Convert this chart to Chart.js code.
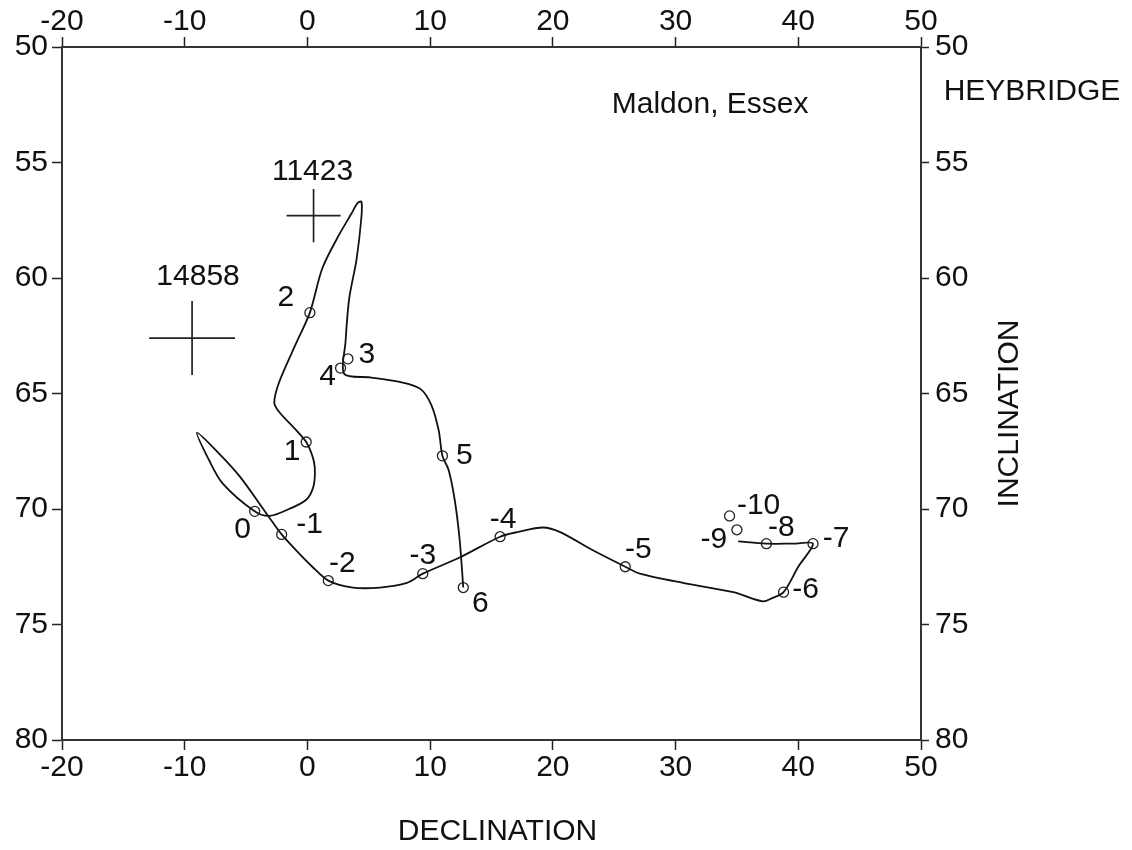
<!DOCTYPE html>
<html>
<head>
<meta charset="utf-8">
<title>Maldon, Essex - Heybridge</title>
<script src="https://cdn.jsdelivr.net/npm/chart.js@4.4.0/dist/chart.umd.min.js"></script>
<style>
  html, body { margin: 0; padding: 0; background: #fff; }
  #wrap { width: 1132px; height: 850px; }
</style>
</head>
<body>
<div id="wrap"><canvas id="curveChart" width="1132" height="850"></canvas></div>
<script>
// curve, from 6 back to -8
const curveDec = [12.7, 12.4, 12.0, 11.5, 11.0, 10.7, 10.1, 9.2, 7.5, 5.1, 3.0, 3.1, 3.4, 4.0, 4.4, 4.4, 4.1, 3.6, 2.4, 1.2,
  0.2, -0.9, -2.3, -2.7, -2.3, -0.9, -0.1, 0.4, 0.6, 0.5, -0.1, -1.5, -3.1, -4.3, -6.9, -8.0, -9.0, -7.2, -5.5, -3.2,
  -2.1, -0.9, 0.4, 1.7, 3.7, 5.9, 8.1, 9.4, 12.4, 15.7, 17.1, 19.2, 20.6, 23.3, 25.9, 27.1, 30.6, 34.7, 37.1, 37.9,
  38.8, 40.0, 41.2, 39.6, 37.4, 35.1];
const curveInc = [73.4, 71.3, 69.6, 68.3, 67.7, 66.6, 65.5, 64.8, 64.5, 64.3, 64.15, 62.8, 60.9, 59.2, 57.35, 56.7, 56.75, 57.2, 58.3, 59.6,
  61.5, 62.8, 64.5, 65.4, 65.8, 66.6, 67.1, 67.7, 68.2, 69.0, 69.6, 70.0, 70.3, 70.1, 68.9, 67.9, 66.7, 67.6, 68.6, 70.3,
  71.1, 71.8, 72.5, 73.1, 73.4, 73.4, 73.2, 72.8, 72.1, 71.2, 71.0, 70.8, 71.0, 71.8, 72.5, 72.8, 73.2, 73.6, 74.0, 73.85,
  73.6, 72.5, 71.5, 71.5, 71.5, 71.4];

// dated points (circles)
const pointLabels = ['6', '5', '4', '3', '2', '1', '0', '-1', '-2', '-3', '-4', '-5', '-6', '-7', '-8', '-9', '-10'];
const pointDec = [12.7, 11.0, 2.7, 3.3, 0.2, -0.1, -4.3, -2.1, 1.7, 9.4, 15.7, 25.9, 38.8, 41.2, 37.4, 35.0, 34.4];
const pointInc = [73.4, 67.7, 63.9, 63.5, 61.5, 67.1, 70.1, 71.1, 73.1, 72.8, 71.2, 72.5, 73.6, 71.5, 71.5, 70.9, 70.3];

// sample results with error crosses
const siteLabels = ['11423', '14858'];
const siteDec = [0.5, -9.4];
const siteInc = [57.3, 62.6];
const siteDecErr = [2.2, 3.5];
const siteIncErr = [1.15, 1.6];

const decTicks = [-20, -10, 0, 10, 20, 30, 40, 50];
const incTicks = [50, 55, 60, 65, 70, 75, 80];

// label placement next to the circles, in pixels
const labelOffsets = [[17, 16], [22, 0], [-13, 9], [19, -4], [-24, -15], [-14, 10], [-12, 18], [28, -10], [14, -17],
  [0, -18], [3, -17], [13, -17], [22, -2], [23, -5], [15, -16], [-23, 10], [29, -10]];
const siteOffsets = [[-1, -44], [6, -61]];

const FONT = '"Liberation Sans", Arial, Helvetica, sans-serif';
Chart.defaults.font.family = FONT;
Chart.defaults.font.size = 30;
Chart.defaults.color = '#111';

const datasets = [{
  data: curveDec.map((d, i) => ({ x: d, y: curveInc[i] })),
  showLine: true,
  borderColor: '#111',
  borderWidth: 1.8,
  pointRadius: 0,
  tension: 0.3
}, {
  data: pointDec.map((d, i) => ({ x: d, y: pointInc[i] })),
  showLine: false,
  pointRadius: 5,
  pointBorderWidth: 1.3,
  pointBorderColor: '#222',
  pointBackgroundColor: 'rgba(255,255,255,0)'
}];

siteDec.forEach((d, i) => {
  const inc = siteInc[i];
  datasets.push({
    data: [{ x: d - siteDecErr[i], y: inc }, { x: d + siteDecErr[i], y: inc }],
    showLine: true, borderColor: '#222', borderWidth: 1.7, pointRadius: 0, tension: 0
  });
  datasets.push({
    data: [{ x: d, y: inc - siteIncErr[i] }, { x: d, y: inc + siteIncErr[i] }],
    showLine: true, borderColor: '#222', borderWidth: 1.7, pointRadius: 0, tension: 0
  });
});

const annotations = {
  id: 'annotations',
  afterDatasetsDraw(chart) {
    const { ctx, chartArea: a, scales: { x, y } } = chart;
    ctx.save();
    ctx.fillStyle = '#111';
    ctx.font = '30px ' + FONT;
    ctx.textAlign = 'center';
    ctx.textBaseline = 'middle';

    pointLabels.forEach((t, i) => {
      const [dx, dy] = labelOffsets[i];
      ctx.fillText(t, x.getPixelForValue(pointDec[i]) + dx, y.getPixelForValue(pointInc[i]) + dy);
    });
    siteLabels.forEach((t, i) => {
      const [dx, dy] = siteOffsets[i];
      ctx.fillText(t, x.getPixelForValue(siteDec[i]) + dx, y.getPixelForValue(siteInc[i]) + dy);
    });

    ctx.fillText('DECLINATION', (a.left + a.right) / 2 + 6, a.bottom + 92);
    ctx.fillText('HEYBRIDGE', a.right + 111, a.top + 45);

    ctx.textAlign = 'left';
    ctx.fillText('Maldon, Essex', x.getPixelForValue(24.8), y.getPixelForValue(52.5));

    ctx.translate(a.right + 89, (a.top + a.bottom) / 2 + 20);
    ctx.rotate(-Math.PI / 2);
    ctx.textAlign = 'center';
    ctx.fillText('INCLINATION', 0, 0);
    ctx.restore();
  }
};

const grid = { drawOnChartArea: false, drawTicks: true, tickLength: 10, tickWidth: 1.5, tickColor: '#222' };

function axis(ticks, extra) {
  return Object.assign({
    grid: grid,
    border: { display: true, color: '#333', width: 2 },
    afterBuildTicks: s => { s.ticks = ticks.map(v => ({ value: v })); }
  }, extra);
}

new Chart(document.getElementById('curveChart'), {
  type: 'scatter',
  data: { datasets: datasets },
  options: {
    responsive: false,
    animation: false,
    devicePixelRatio: 1,
    layout: { padding: 0 },
    plugins: { legend: { display: false }, tooltip: { enabled: false } },
    scales: {
      x: axis(decTicks, {
        type: 'linear', position: 'bottom', min: -20, max: 50,
        ticks: { padding: 0, maxRotation: 0, autoSkip: false },
        afterFit: s => { s.height = 110; }
      }),
      xTop: axis(decTicks, {
        type: 'linear', position: 'top', min: -20, max: 50,
        ticks: { padding: -3, maxRotation: 0, autoSkip: false },
        afterFit: s => { s.height = 47; }
      }),
      y: axis(incTicks, {
        type: 'linear', position: 'left', min: 50, max: 80, reverse: true,
        ticks: { padding: 4, autoSkip: false },
        afterFit: s => { s.width = 62; }
      }),
      yRight: axis(incTicks, {
        type: 'linear', position: 'right', min: 50, max: 80, reverse: true,
        ticks: { padding: 6, autoSkip: false },
        grid: Object.assign({}, grid, { tickLength: 8 }),
        afterFit: s => { s.width = 211; }
      })
    }
  },
  plugins: [annotations]
});
</script>
</body>
</html>
